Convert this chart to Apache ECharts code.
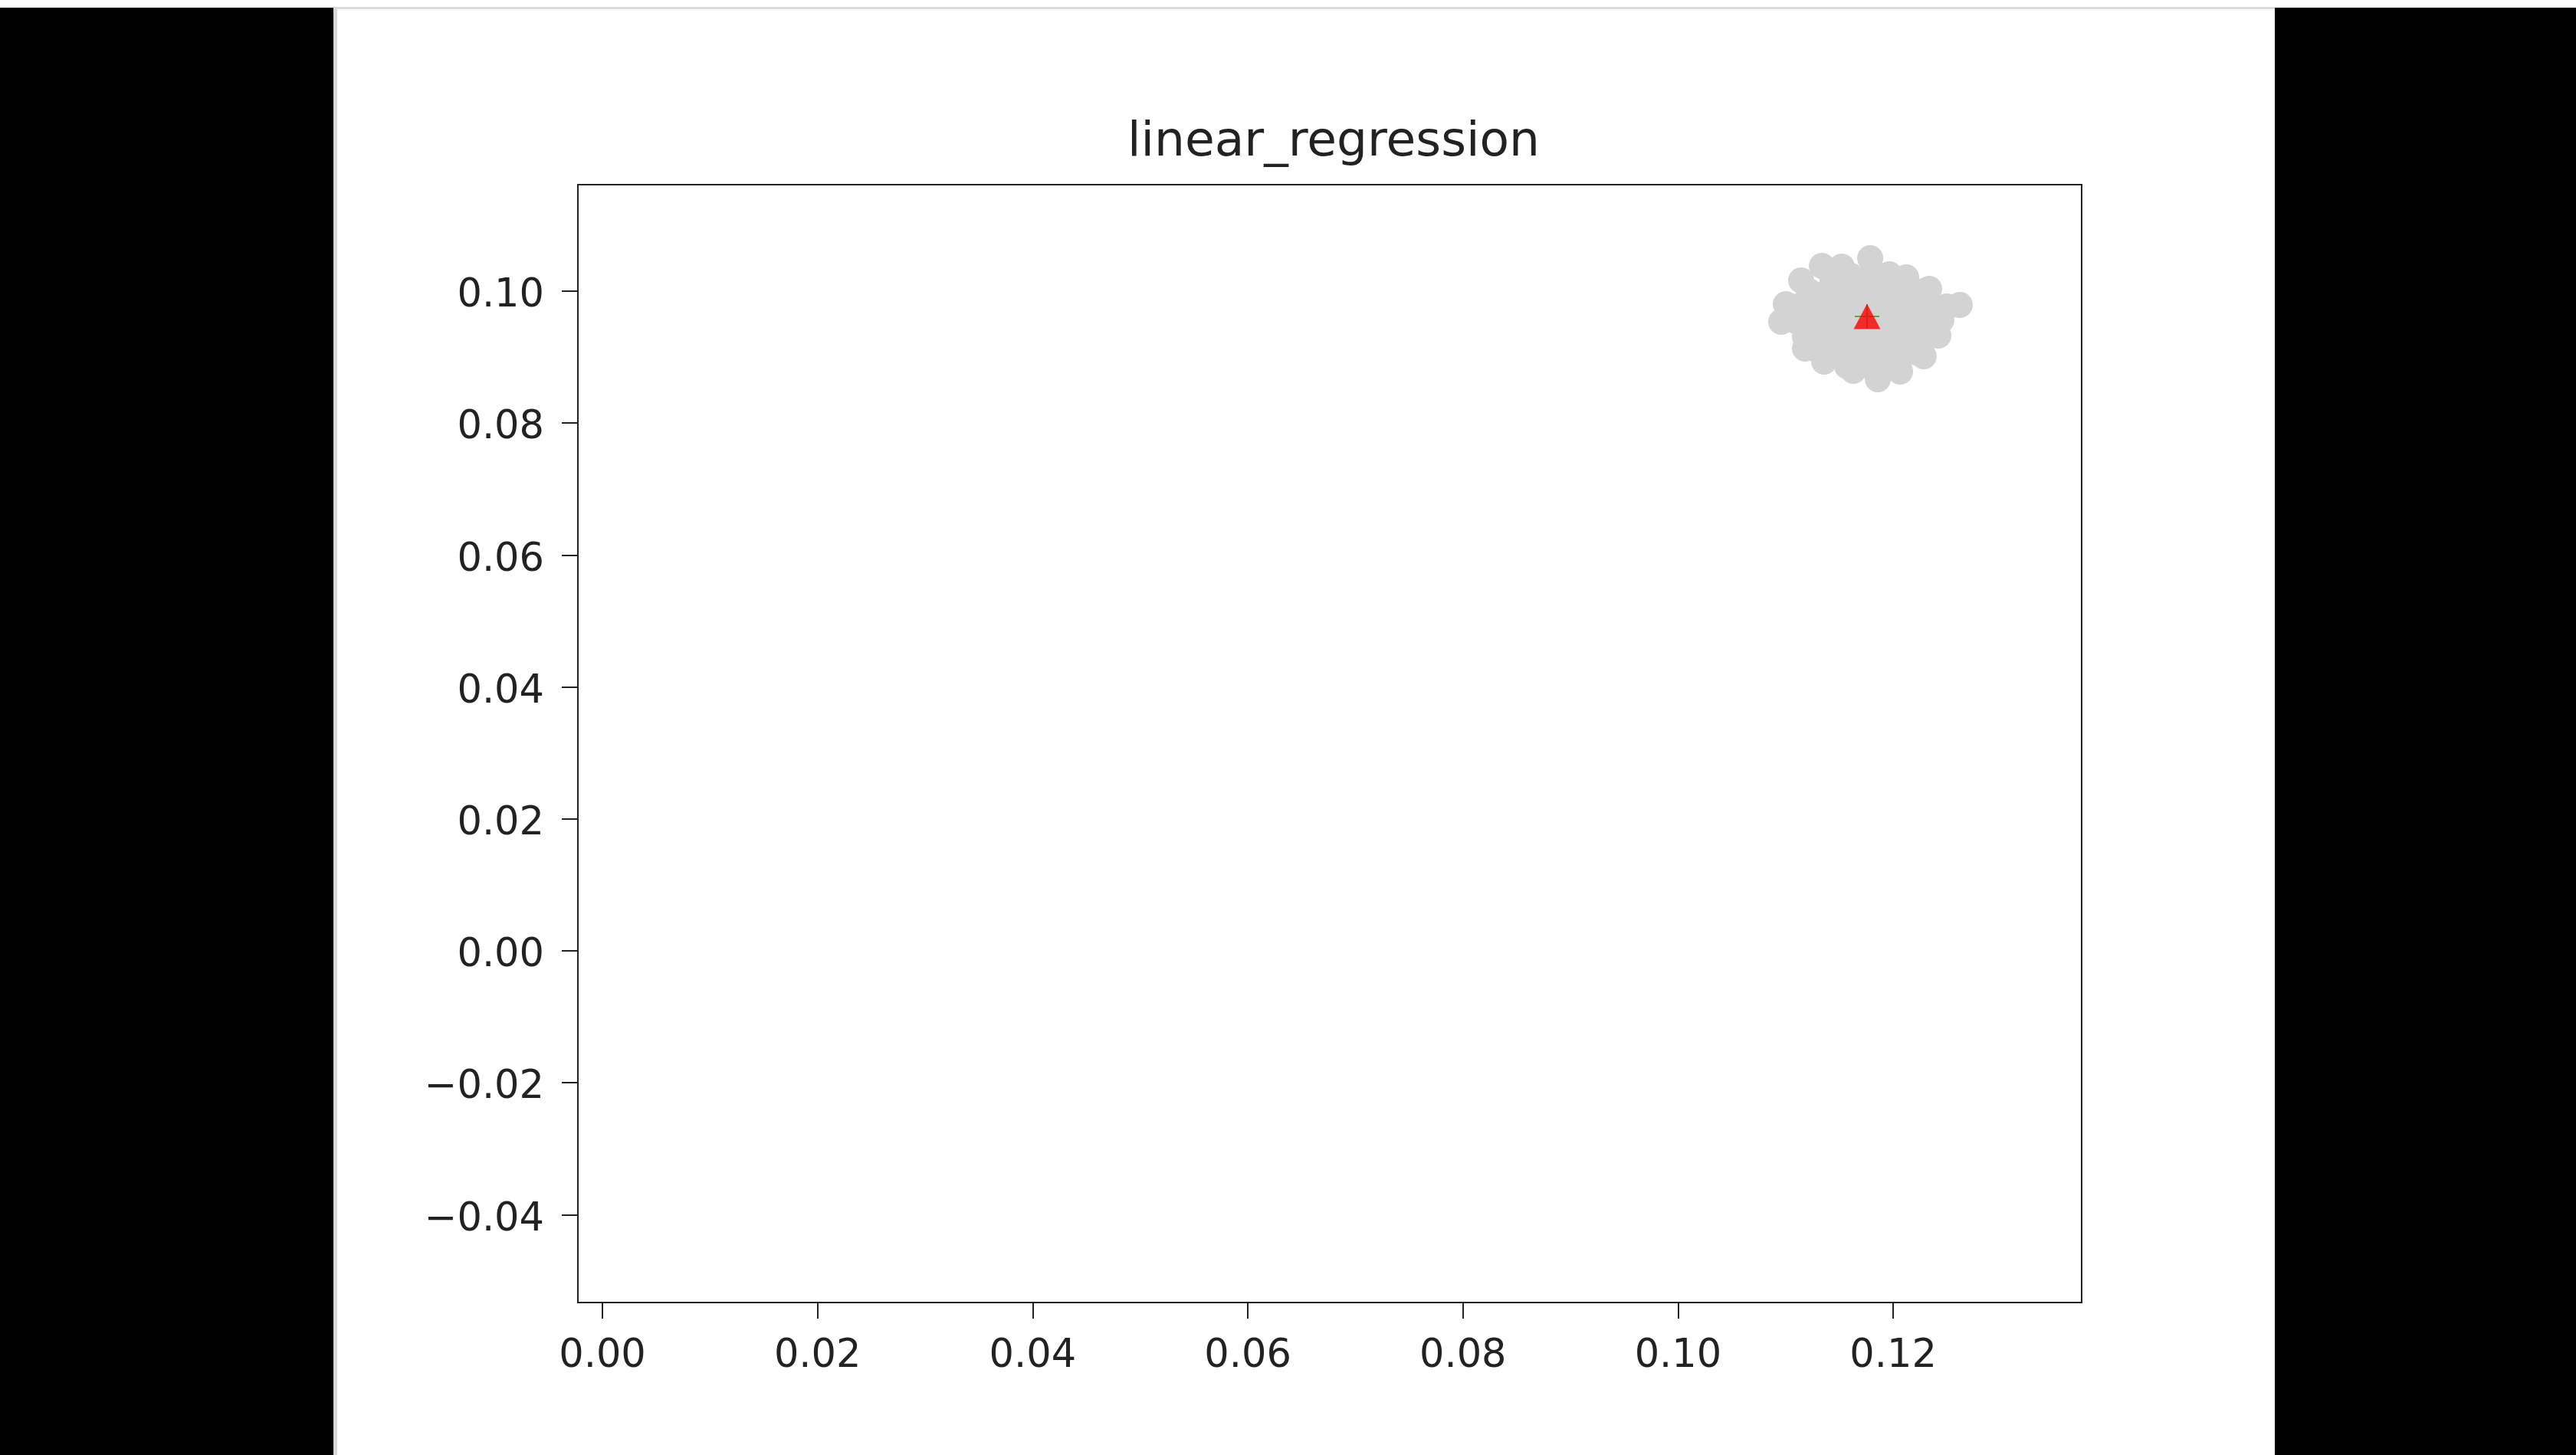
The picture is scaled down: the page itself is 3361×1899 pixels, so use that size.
<!DOCTYPE html>
<html>
<head>
<meta charset="utf-8">
<script src="https://cdn.jsdelivr.net/npm/echarts@6/dist/echarts.min.js"></script>
<style>
html,body{margin:0;padding:0;background:#fff;}
#chart{position:absolute;left:0;top:0;width:3361px;height:1899px;}
</style>
</head>
<body>
<div id="chart"></div>
<script>
// ---- data ----
const chartTitle = 'linear_regression';
const xTicks = [0.00, 0.02, 0.04, 0.06, 0.08, 0.10, 0.12];
const yTicks = [-0.04, -0.02, 0.00, 0.02, 0.04, 0.06, 0.08, 0.10];
const xRange = [-0.00228, 0.13752];
const yRange = [-0.05331, 0.11614];
const sampleX = [
  0.11786, 0.11337, 0.11522, 0.11144, 0.11002, 0.10959, 0.11180, 0.11358, 0.11629,
  0.11857, 0.12064, 0.12284, 0.12420, 0.12448, 0.12619, 0.12334, 0.12121, 0.11964,
  0.11429, 0.11607, 0.11786, 0.11964,
  0.11216, 0.11394, 0.11572, 0.11750, 0.11928, 0.12106, 0.12284,
  0.11109, 0.11287, 0.11465, 0.11643, 0.11821, 0.12000, 0.12178, 0.12356, 0.12498,
  0.11109, 0.11287, 0.11465, 0.11643, 0.11857, 0.12035, 0.12213, 0.12356,
  0.11180, 0.11358, 0.11536, 0.11714, 0.11893, 0.12071, 0.12249,
  0.11323, 0.11501, 0.11679, 0.11857, 0.12035, 0.12213,
  0.11572, 0.11786, 0.11964
];
const sampleY = [
  0.10499, 0.10383, 0.10372, 0.10163, 0.09803, 0.09535, 0.09129, 0.08931, 0.08792,
  0.08664, 0.08780, 0.09013, 0.09326, 0.09559, 0.09791, 0.10035, 0.10209, 0.10256,
  0.10232, 0.10232, 0.10232, 0.10232,
  0.10000, 0.10000, 0.10000, 0.10000, 0.10000, 0.10000, 0.10000,
  0.09768, 0.09768, 0.09768, 0.09768, 0.09768, 0.09768, 0.09768, 0.09768, 0.09768,
  0.09535, 0.09535, 0.09535, 0.09535, 0.09535, 0.09535, 0.09535, 0.09535,
  0.09303, 0.09303, 0.09303, 0.09303, 0.09303, 0.09303, 0.09303,
  0.09071, 0.09071, 0.09071, 0.09071, 0.09071, 0.09071,
  0.08862, 0.08862, 0.08862
];
const meanPoint = [0.11757, 0.09617];
const truePoint = [0.11757, 0.09617];

// ---- chart ----
const chart = echarts.init(document.getElementById('chart'), null, {renderer: 'canvas'});
const fmt = v => {
  const s = Math.abs(v).toFixed(2);
  return (v < -1e-9 ? '\u2212' : '') + s;
};
const samples = sampleX.map((x, i) => [x, sampleY[i]]);
const textColor = '#222';
const font = 'DejaVu Sans';
chart.setOption({
  animation: false,
  backgroundColor: '#ffffff',
  graphic: [
    {type: 'rect', z: -10, silent: true, shape: {x: 0, y: 10, width: 435, height: 1889}, style: {fill: '#000'}},
    {type: 'rect', z: -10, silent: true, shape: {x: 2968, y: 10, width: 393, height: 1889}, style: {fill: '#000'}},
    {type: 'rect', z: -10, silent: true, shape: {x: 435, y: 9, width: 2533, height: 3}, style: {fill: '#dcdcdc'}},
    {type: 'rect', z: -10, silent: true, shape: {x: 435, y: 10, width: 5, height: 1889}, style: {fill: '#d8d8d8'}}
  ],
  title: {
    text: chartTitle,
    left: 1735,
    textAlign: 'center',
    top: 150,
    textStyle: {fontFamily: font, fontSize: 63, fontWeight: 'normal', color: textColor}
  },
  grid: {
    left: 754, right: 645, top: 241, bottom: 199,
    show: true, borderColor: textColor, borderWidth: 2, backgroundColor: 'transparent'
  },
  xAxis: {
    type: 'value', min: xRange[0], max: xRange[1],
    axisLine: {show: true, onZero: false, lineStyle: {color: textColor, width: 2}},
    axisTick: {show: true, length: 21, lineStyle: {color: textColor, width: 2}, customValues: xTicks},
    axisLabel: {show: true, margin: 45, fontFamily: font, fontSize: 51, color: textColor,
      customValues: xTicks, formatter: fmt},
    splitLine: {show: false}
  },
  yAxis: {
    type: 'value', min: yRange[0], max: yRange[1],
    axisLine: {show: true, onZero: false, lineStyle: {color: textColor, width: 2}},
    axisTick: {show: true, length: 21, lineStyle: {color: textColor, width: 2}, customValues: yTicks},
    axisLabel: {show: true, margin: 44, fontFamily: font, fontSize: 51, color: textColor,
      verticalAlign: 'top', lineHeight: 14, customValues: yTicks, formatter: fmt},
    splitLine: {show: false}
  },
  series: [
    {
      name: 'samples', type: 'scatter', data: samples,
      symbol: 'circle', symbolSize: 34,
      itemStyle: {color: '#d3d3d3', opacity: 1}
    },
    {
      name: 'true', type: 'scatter', data: [truePoint],
      symbol: 'path://M0,5 L10,5 M5,0 L5,10', symbolSize: 32, z: 3,
      itemStyle: {color: 'transparent', borderColor: '#2ca02c', borderWidth: 2}
    },
    {
      name: 'mean', type: 'scatter', data: [meanPoint],
      symbol: 'triangle', symbolSize: [35, 33], z: 4,
      itemStyle: {color: '#ff0000'}
    }
  ]
});
</script>
</body>
</html>
